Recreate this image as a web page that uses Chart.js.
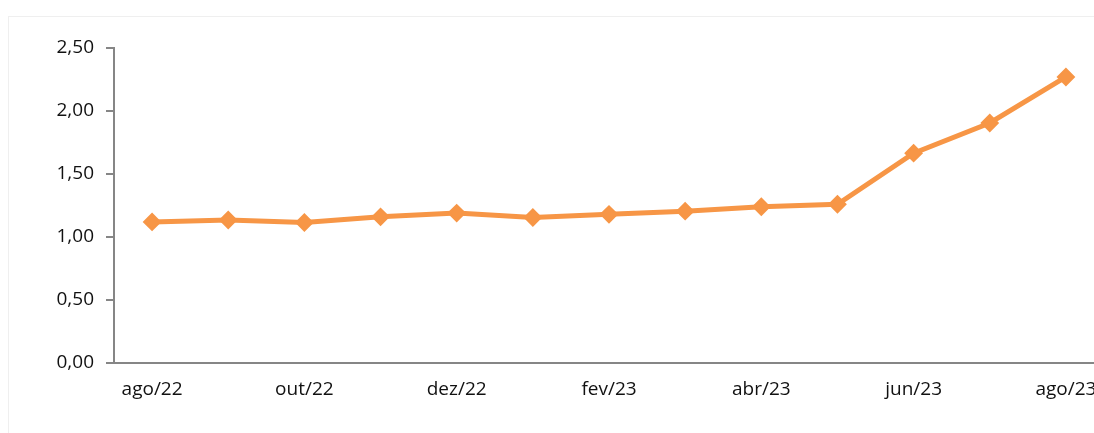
<!DOCTYPE html>
<html>
<head>
<meta charset="utf-8">
<script src="https://cdn.jsdelivr.net/npm/chart.js@4/dist/chart.umd.min.js"></script>
<style>
  html, body { margin: 0; padding: 0; background: #fff; overflow: hidden; }
  #wrap { position: relative; width: 1094px; height: 433px; overflow: hidden; }
  #frame { position: absolute; left: 8px; top: 16px; width: 1200px; height: 500px; border: 1px solid #efefef; }
  #chartData { position: absolute; left: 0; top: 0; }
</style>
</head>
<body>
<div id="wrap">
  <div id="frame"></div>
  <canvas id="chartData" width="1114" height="433"></canvas>
</div>
<script>
{
    // months (every other one gets a label on the axis)
    const months = ['ago/22', 'set/22', 'out/22', 'nov/22', 'dez/22', 'jan/23', 'fev/23',
        'mar/23', 'abr/23', 'mai/23', 'jun/23', 'jul/23', 'ago/23'];
    const values = [1.12, 1.135, 1.115, 1.16, 1.19, 1.155, 1.18, 1.205, 1.24, 1.26, 1.665, 1.905, 2.27];
    const yTicks = [0, 0.5, 1, 1.5, 2, 2.5];

    const orange = '#f79646';
    const axisGray = '#868686';
    const ctx = document.getElementById('chartData');

    new Chart(ctx, {
        type: 'line',
        data: {
            labels: months,
            datasets: [{
                data: values,
                borderColor: orange,
                backgroundColor: orange,
                borderWidth: 5,
                pointStyle: 'rectRot',
                pointRadius: 8,
                pointBorderWidth: 2,
                pointBackgroundColor: orange,
                pointBorderColor: orange,
                tension: 0
            }]
        },
        options: {
            responsive: false,
            animation: false,
            layout: { padding: { top: 48, right: 6, left: 0, bottom: 0 } },
            plugins: { legend: { display: false }, tooltip: { enabled: false } },
            scales: {
                x: {
                    offset: true,
                    grid: { display: false, drawTicks: false },
                    border: { color: axisGray, width: 2 },
                    ticks: {
                        autoSkip: false,
                        maxRotation: 0,
                        padding: 15,
                        color: '#111',
                        font: { family: 'Open Sans', size: 19 },
                        callback: (v, i) => i % 2 == 0 ? months[i] : ''
                    },
                    afterFit: (scale) => { scale.height = 70; }
                },
                y: {
                    min: 0,
                    max: 2.5,
                    afterBuildTicks: (scale) => { scale.ticks = yTicks.map(v => ({ value: v })); },
                    grid: { drawOnChartArea: false, tickLength: 8, color: axisGray, lineWidth: 2 },
                    border: { color: axisGray, width: 2 },
                    ticks: {
                        padding: 12,
                        color: '#111',
                        font: { family: 'Open Sans', size: 19 },
                        callback: (v) => v.toFixed(2).replace('.', ',')
                    },
                    afterFit: (scale) => { scale.width = 114; }
                }
            }
        }
    });
}
</script>
</body>
</html>
